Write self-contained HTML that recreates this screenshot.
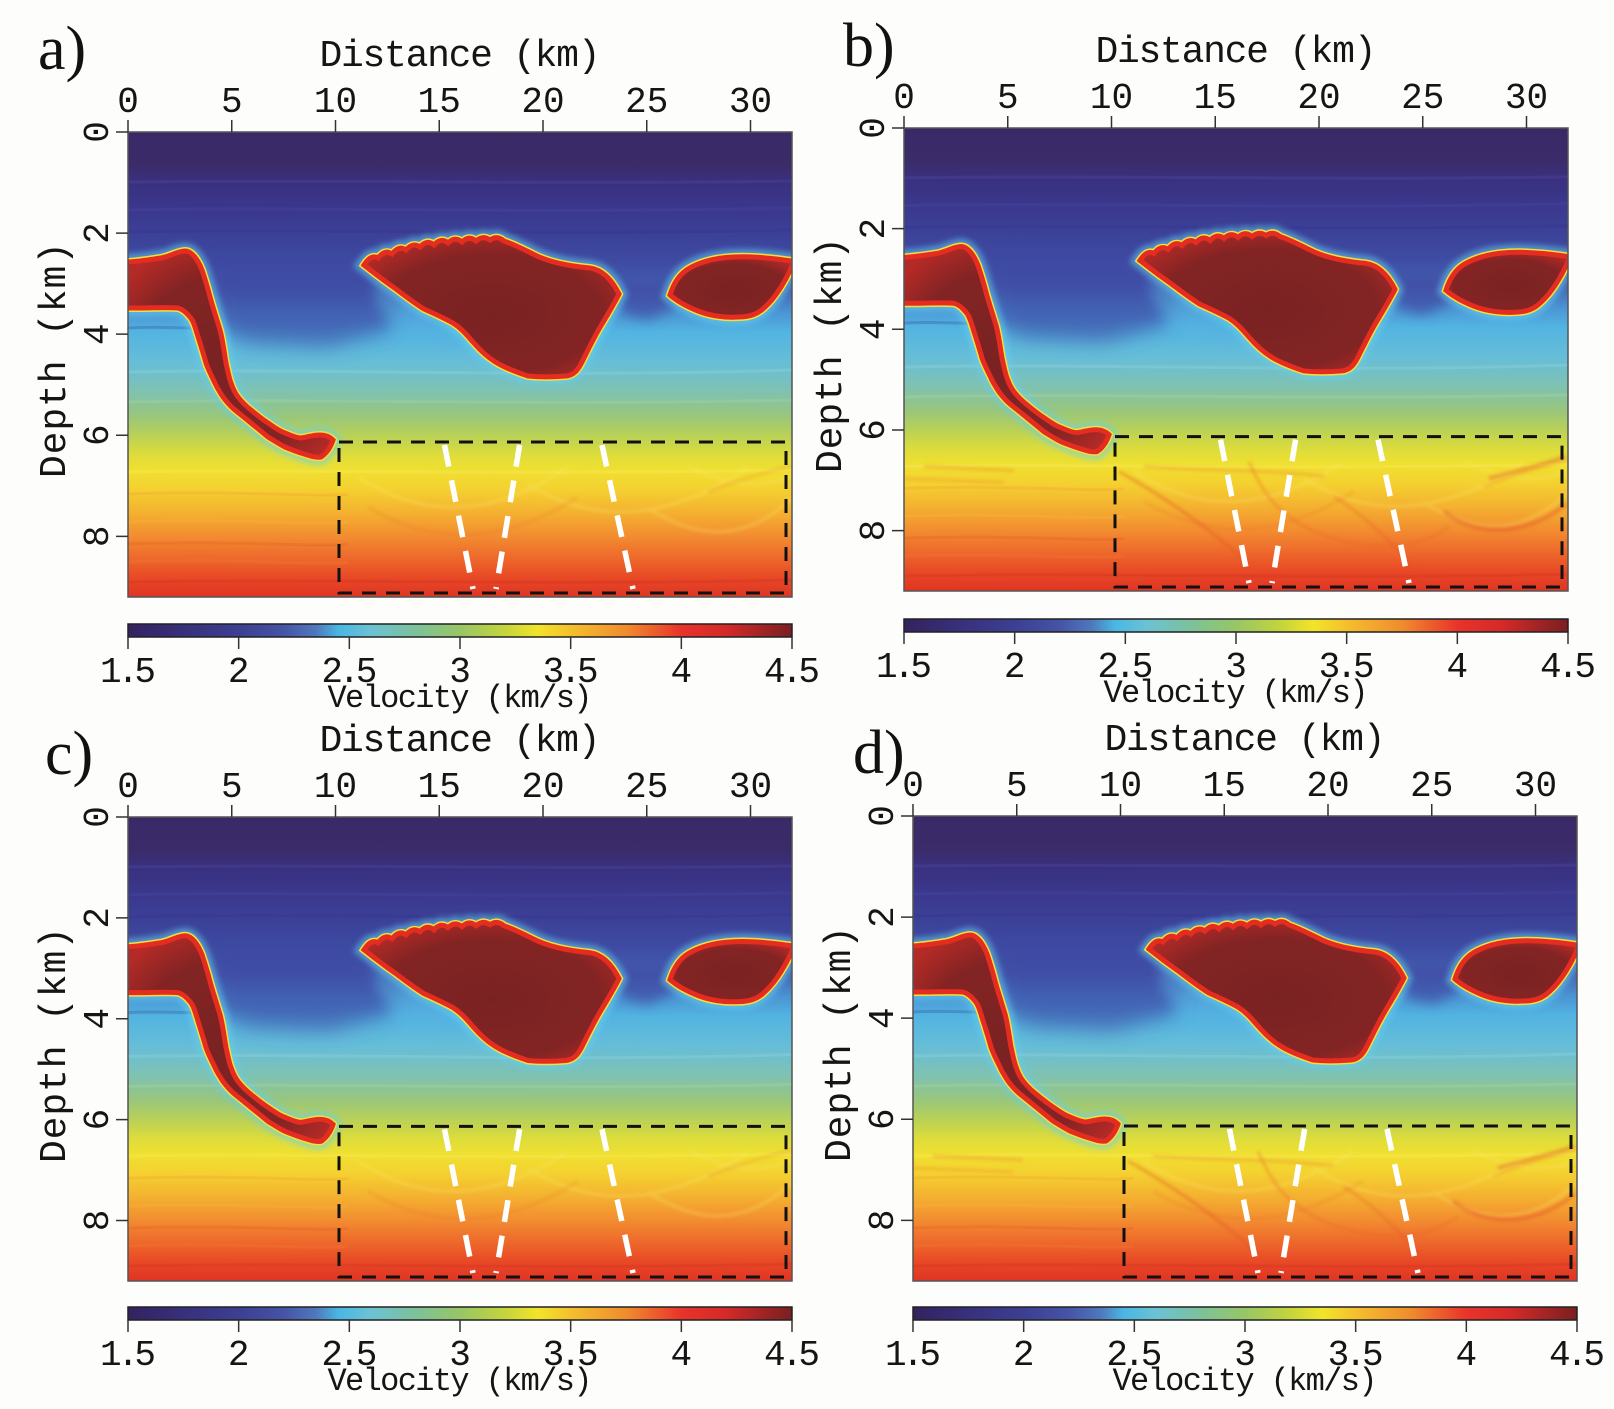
<!DOCTYPE html>
<html><head><meta charset="utf-8">
<style>
html,body{margin:0;padding:0;background:#fdfdfc;}
svg{display:block;}
.t{font-family:"Liberation Mono",monospace;font-size:36px;fill:#151515;text-anchor:middle;}
.lab{font-family:"Liberation Mono",monospace;font-size:38px;fill:#151515;text-anchor:middle;}
.vel{font-family:"Liberation Mono",monospace;font-size:32px;fill:#151515;text-anchor:middle;}
.pl{font-family:"Liberation Serif",serif;font-size:62px;fill:#111;}
</style></head>
<body>
<svg width="1614" height="1409" viewBox="0 0 1614 1409" xmlns="http://www.w3.org/2000/svg">
<rect x="0" y="0" width="1614" height="1409" fill="#fdfdfc"/>
<defs>
<linearGradient id="bg" gradientUnits="userSpaceOnUse" x1="0" y1="0" x2="0" y2="465">
<stop offset="0" stop-color="#3a2966"/>
<stop offset="0.07" stop-color="#3b2b69"/>
<stop offset="0.11" stop-color="#3a3080"/>
<stop offset="0.19" stop-color="#3b3b92"/>
<stop offset="0.28" stop-color="#3e4ba2"/>
<stop offset="0.34" stop-color="#4461b2"/>
<stop offset="0.385" stop-color="#4a92d2"/>
<stop offset="0.43" stop-color="#52b4e2"/>
<stop offset="0.50" stop-color="#68bed6"/>
<stop offset="0.56" stop-color="#80c2b0"/>
<stop offset="0.61" stop-color="#98c67c"/>
<stop offset="0.656" stop-color="#bcd254"/>
<stop offset="0.692" stop-color="#dcdc3c"/>
<stop offset="0.727" stop-color="#f0e030"/>
<stop offset="0.77" stop-color="#f4d030"/>
<stop offset="0.82" stop-color="#f4b030"/>
<stop offset="0.87" stop-color="#f28c30"/>
<stop offset="0.914" stop-color="#ee6a2c"/>
<stop offset="0.957" stop-color="#e84a26"/>
<stop offset="1" stop-color="#e03424"/>
</linearGradient>
<linearGradient id="cb" x1="0" y1="0" x2="1" y2="0">
<stop offset="0" stop-color="#33225f"/>
<stop offset="0.083" stop-color="#38307c"/>
<stop offset="0.167" stop-color="#3c3f92"/>
<stop offset="0.233" stop-color="#4553a6"/>
<stop offset="0.283" stop-color="#4f78bc"/>
<stop offset="0.317" stop-color="#4ab6e4"/>
<stop offset="0.367" stop-color="#6cc2d4"/>
<stop offset="0.433" stop-color="#7cc29a"/>
<stop offset="0.5" stop-color="#98c666"/>
<stop offset="0.567" stop-color="#c4d43c"/>
<stop offset="0.617" stop-color="#f2e42a"/>
<stop offset="0.667" stop-color="#f4bf2e"/>
<stop offset="0.75" stop-color="#f08c2e"/>
<stop offset="0.833" stop-color="#e8342a"/>
<stop offset="0.9" stop-color="#d42a28"/>
<stop offset="1" stop-color="#7a1f22"/>
</linearGradient>
<radialGradient id="saltG" cx="0.5" cy="0.55" r="0.62">
<stop offset="0" stop-color="#7a2222"/>
<stop offset="0.7" stop-color="#832424"/>
<stop offset="1" stop-color="#b42a26"/>
</radialGradient>
<filter id="bl10" x="-40%" y="-40%" width="180%" height="180%"><feGaussianBlur stdDeviation="10"/></filter>
<filter id="bl6" x="-30%" y="-30%" width="160%" height="160%"><feGaussianBlur stdDeviation="6"/></filter>
<filter id="bl3" x="-20%" y="-20%" width="140%" height="140%"><feGaussianBlur stdDeviation="3"/></filter>
<filter id="bl1" x="-20%" y="-20%" width="140%" height="140%"><feGaussianBlur stdDeviation="1.5"/></filter>
<clipPath id="pc"><rect x="0" y="0" width="664" height="465"/></clipPath>

<path id="s1" d="M-8,130 L0,130 C15,129 25,127 33,126 C43,124 50,119 57,119 C64,119 70,128 74,138 C77,147 80,157 82,165 C85,176 89,188 92,198 C95,209 96,220 98,231 C100,240 101,246 103,251 C105,257 107,261 110,265 C114,270 118,274 123,278 C129,283 134,287 140,291 C146,295 151,299 157,301 C162,303 168,306 173,306 C180,305 185,303 192,303 C197,303 202,305 205,308 C203,314 199,321 193,325 C186,326 180,323 173,321 C167,319 162,317 157,315 C151,312 145,308 140,305 C134,300 128,295 123,291 C117,286 112,282 107,278 C102,274 98,269 95,265 C92,260 89,256 87,251 C83,243 80,237 78,231 C75,220 71,208 68,198 C66,192 65,188 62,185 C58,180 54,177 50,176 C40,175 25,176 10,176 L-8,176 Z"/>
<path id="s2" d="M236,133 Q243,122 250,126 Q257,117 264,122 Q271,113 278,118 Q285,110 292,115 Q299,107 306,113 Q313,105 320,111 Q327,104 334,110 Q341,103 348,109 Q355,103 362,108 Q369,103 376,109 C385,112 395,117 405,122 C420,130 440,134 462,136 C475,138 484,148 491,162 C486,172 480,182 474,192 C466,205 460,218 454,230 C450,238 446,243 438,244 C425,245 410,245 400,244 C388,240 375,235 366,229 C358,224 352,218 345,210 C338,202 333,196 325,191 C314,185 305,181 296,177 C285,170 276,163 268,157 C258,150 246,141 236,133 Z"/>
<path id="s3" d="M542,163 C546,150 552,142 560,137 C570,131 585,126 605,125 C625,124 645,126 670,130 L670,134 L664,134 C658,148 648,165 637,175 C630,182 622,185 610,185 C595,186 580,183 570,179 C560,175 550,170 542,163 Z"/>

<g id="mbase">
<g clip-path="url(#pc)">
<rect x="0" y="0" width="664" height="465" fill="url(#bg)"/>
<g fill="none" stroke-width="3" opacity="0.22">
<path d="M0,50 C200,47 420,53 664,49" stroke="#5a5ab8"/>
<path d="M0,78 C150,74 380,82 664,76" stroke="#5050b0"/>
<path d="M0,100 C180,96 420,104 664,98" stroke="#2e2e80"/>
<path d="M0,196 C30,194 60,197 80,196" stroke="#2a2a7a"/>
<path d="M0,240 C200,236 420,246 664,238" stroke="#a8e0f0"/>
<path d="M0,270 C200,266 420,274 664,268" stroke="#b8e0a0"/>
<path d="M0,340 C150,336 300,344 664,338" stroke="#fff080"/>
<path d="M0,362 C100,358 200,366 220,362" stroke="#f09030"/>
<path d="M0,390 C100,386 200,394 220,390" stroke="#f8c040"/>
<path d="M0,412 C100,408 200,416 220,412" stroke="#e05028"/>
<path d="M0,430 C100,426 200,434 220,430" stroke="#f08a30"/>
<path d="M0,450 C200,446 420,454 664,448" stroke="#c82a20"/>
</g>
<path d="M78,132 L240,132 L268,160 L262,198 L200,214 L120,210 L92,198 Z" fill="#3d45a0" opacity="0.65" filter="url(#bl10)"/>
<path d="M488,150 L548,150 L545,176 L520,188 L494,182 Z" fill="#4048a2" opacity="0.7" filter="url(#bl6)"/>
<path d="M246,146 L300,182 L336,202 L330,216 L272,206 L248,172 Z" fill="#58b0e0" opacity="0.45" filter="url(#bl6)"/>
<g fill="none" stroke-width="3" opacity="0.3" stroke="#fae870" filter="url(#bl1)">
<path d="M230,345 Q330,410 440,335"/>
<path d="M400,352 Q500,415 620,336"/>
<path d="M520,376 Q600,428 664,366"/>
<path d="M560,334 Q620,364 664,344"/>
</g>
<g fill="none" stroke-width="3" opacity="0.22" stroke="#e86a2c" filter="url(#bl1)">
<path d="M240,375 Q340,435 450,365"/>
<path d="M580,360 Q620,344 664,334"/>
</g>
<g fill="none" stroke="#63d0ee" stroke-width="16" opacity="0.55" filter="url(#bl3)">
<use href="#s1"/><use href="#s2"/><use href="#s3"/>
</g>
<g fill="none" stroke="#f2e03a" stroke-width="8">
<use href="#s1"/><use href="#s2"/><use href="#s3"/>
</g>
<g fill="url(#saltG)" stroke="#e42c20" stroke-width="5">
<use href="#s1"/><use href="#s2"/><use href="#s3"/>
</g>
</g>
</g>

<g id="mtop">
<g clip-path="url(#pc)">
<rect x="211" y="310" width="447" height="151" fill="none" stroke="#111" stroke-width="3" stroke-dasharray="14 10"/>
<g stroke="#ffffff" stroke-width="5.5" stroke-dasharray="22 14">
<line x1="316.5" y1="313" x2="345" y2="457"/>
<line x1="391.6" y1="313" x2="368" y2="457"/>
<line x1="474" y1="313" x2="505" y2="457"/>
</g>
</g>
<rect x="0" y="0" width="664" height="465" fill="none" stroke="#555" stroke-width="1.5"/>
</g>

<g id="extra">
<g clip-path="url(#pc)" fill="none" filter="url(#bl1)">
<path d="M215,345 C260,370 310,405 347,440" stroke="#e0502a" stroke-width="3" opacity="0.4"/>
<path d="M345,335 C360,370 380,400 440,415 C480,425 520,420 545,400" stroke="#e8602c" stroke-width="3" opacity="0.35"/>
<path d="M540,385 C570,410 620,412 662,378" stroke="#e04a2a" stroke-width="4" opacity="0.4"/>
<path d="M585,352 C610,345 640,338 662,330" stroke="#e04a2a" stroke-width="4" opacity="0.4"/>
<path d="M0,352 L100,356" stroke="#f07a30" stroke-width="3" opacity="0.3"/>
<path d="M20,340 L110,344" stroke="#e84a28" stroke-width="3" opacity="0.25"/>
<path d="M240,340 C300,345 360,342 420,350" stroke="#e85a2a" stroke-width="3" opacity="0.25"/>
<path d="M430,370 C470,395 500,430 520,455" stroke="#e04a28" stroke-width="2.5" opacity="0.3"/>
</g>
</g>

<g id="cbar">
<rect x="0" y="0" width="664" height="13" fill="url(#cb)" stroke="#222" stroke-width="1.5"/>
<path d="M0,13V25 M110.67,13V25 M221.33,13V25 M332,13V25 M442.67,13V25 M553.33,13V25 M664,13V25" stroke="#333" stroke-width="1.5"/>
</g>
</defs>

<!-- ================= Panel a ================= -->
<text class="pl" x="38" y="69">a)</text>
<g transform="translate(128,132)">
<use href="#mbase"/>
<use href="#mtop"/>
<path d="M0,-12V0 M103.75,-12V0 M207.5,-12V0 M311.25,-12V0 M415,-12V0 M518.75,-12V0 M622.5,-12V0 M-12,0H0 M-12,101.09H0 M-12,202.17H0 M-12,303.26H0 M-12,404.35H0" stroke="#333" stroke-width="1.5"/>
<text class="t" x="0" y="-20">0</text>
<text class="t" x="103.75" y="-20">5</text>
<text class="t" x="207.5" y="-20">10</text>
<text class="t" x="311.25" y="-20">15</text>
<text class="t" x="415" y="-20">20</text>
<text class="t" x="518.75" y="-20">25</text>
<text class="t" x="622.5" y="-20">30</text>
<text class="t" transform="translate(-20,0) rotate(-90)">0</text>
<text class="t" transform="translate(-20,101.09) rotate(-90)">2</text>
<text class="t" transform="translate(-20,202.17) rotate(-90)">4</text>
<text class="t" transform="translate(-20,303.26) rotate(-90)">6</text>
<text class="t" transform="translate(-20,404.35) rotate(-90)">8</text>
<text class="lab" x="332" y="-66" textLength="281">Distance (km)</text>
<text class="lab" transform="translate(-63,228) rotate(-90)" textLength="236">Depth (km)</text>
<use href="#cbar" transform="translate(0,492)"/>
<text class="t" x="0" y="550" textLength="56">1.5</text>
<text class="t" x="110.67" y="550">2</text>
<text class="t" x="221.33" y="550" textLength="56">2.5</text>
<text class="t" x="332" y="550">3</text>
<text class="t" x="442.67" y="550" textLength="56">3.5</text>
<text class="t" x="553.33" y="550">4</text>
<text class="t" x="664" y="550" textLength="56">4.5</text>
<text class="vel" x="332" y="575" textLength="265">Velocity (km/s)</text>
</g>

<!-- ================= Panel b ================= -->
<text class="pl" x="843" y="66">b)</text>
<g transform="translate(904,128)">
<g transform="scale(1,0.9957)">
<use href="#mbase"/>
<use href="#extra"/>
<use href="#mtop"/>
</g>
<path d="M0,-12V0 M103.75,-12V0 M207.5,-12V0 M311.25,-12V0 M415,-12V0 M518.75,-12V0 M622.5,-12V0 M-12,0H0 M-12,100.65H0 M-12,201.3H0 M-12,301.96H0 M-12,402.61H0" stroke="#333" stroke-width="1.5"/>
<text class="t" x="0" y="-20">0</text>
<text class="t" x="103.75" y="-20">5</text>
<text class="t" x="207.5" y="-20">10</text>
<text class="t" x="311.25" y="-20">15</text>
<text class="t" x="415" y="-20">20</text>
<text class="t" x="518.75" y="-20">25</text>
<text class="t" x="622.5" y="-20">30</text>
<text class="t" transform="translate(-20,0) rotate(-90)">0</text>
<text class="t" transform="translate(-20,100.65) rotate(-90)">2</text>
<text class="t" transform="translate(-20,201.3) rotate(-90)">4</text>
<text class="t" transform="translate(-20,301.96) rotate(-90)">6</text>
<text class="t" transform="translate(-20,402.61) rotate(-90)">8</text>
<text class="lab" x="332" y="-66" textLength="281">Distance (km)</text>
<text class="lab" transform="translate(-63,227) rotate(-90)" textLength="236">Depth (km)</text>
<use href="#cbar" transform="translate(0,491)"/>
<text class="t" x="0" y="549" textLength="56">1.5</text>
<text class="t" x="110.67" y="549">2</text>
<text class="t" x="221.33" y="549" textLength="56">2.5</text>
<text class="t" x="332" y="549">3</text>
<text class="t" x="442.67" y="549" textLength="56">3.5</text>
<text class="t" x="553.33" y="549">4</text>
<text class="t" x="664" y="549" textLength="56">4.5</text>
<text class="vel" x="332" y="574" textLength="265">Velocity (km/s)</text>
</g>

<!-- ================= Panel c ================= -->
<text class="pl" x="45" y="774">c)</text>
<g transform="translate(128,817)">
<g transform="scale(1,0.99785)">
<use href="#mbase"/>
<use href="#mtop"/>
</g>
<path d="M0,-12V0 M103.75,-12V0 M207.5,-12V0 M311.25,-12V0 M415,-12V0 M518.75,-12V0 M622.5,-12V0 M-12,0H0 M-12,100.87H0 M-12,201.74H0 M-12,302.61H0 M-12,403.48H0" stroke="#333" stroke-width="1.5"/>
<text class="t" x="0" y="-20">0</text>
<text class="t" x="103.75" y="-20">5</text>
<text class="t" x="207.5" y="-20">10</text>
<text class="t" x="311.25" y="-20">15</text>
<text class="t" x="415" y="-20">20</text>
<text class="t" x="518.75" y="-20">25</text>
<text class="t" x="622.5" y="-20">30</text>
<text class="t" transform="translate(-20,0) rotate(-90)">0</text>
<text class="t" transform="translate(-20,100.87) rotate(-90)">2</text>
<text class="t" transform="translate(-20,201.74) rotate(-90)">4</text>
<text class="t" transform="translate(-20,302.61) rotate(-90)">6</text>
<text class="t" transform="translate(-20,403.48) rotate(-90)">8</text>
<text class="lab" x="332" y="-66" textLength="281">Distance (km)</text>
<text class="lab" transform="translate(-63,228) rotate(-90)" textLength="236">Depth (km)</text>
<use href="#cbar" transform="translate(0,490)"/>
<text class="t" x="0" y="548" textLength="56">1.5</text>
<text class="t" x="110.67" y="548">2</text>
<text class="t" x="221.33" y="548" textLength="56">2.5</text>
<text class="t" x="332" y="548">3</text>
<text class="t" x="442.67" y="548" textLength="56">3.5</text>
<text class="t" x="553.33" y="548">4</text>
<text class="t" x="664" y="548" textLength="56">4.5</text>
<text class="vel" x="332" y="573" textLength="265">Velocity (km/s)</text>
</g>

<!-- ================= Panel d ================= -->
<text class="pl" x="853" y="773">d)</text>
<g transform="translate(913,816)">
<use href="#mbase"/>
<use href="#extra"/>
<use href="#mtop"/>
<path d="M0,-12V0 M103.75,-12V0 M207.5,-12V0 M311.25,-12V0 M415,-12V0 M518.75,-12V0 M622.5,-12V0 M-12,0H0 M-12,101.09H0 M-12,202.17H0 M-12,303.26H0 M-12,404.35H0" stroke="#333" stroke-width="1.5"/>
<text class="t" x="0" y="-20">0</text>
<text class="t" x="103.75" y="-20">5</text>
<text class="t" x="207.5" y="-20">10</text>
<text class="t" x="311.25" y="-20">15</text>
<text class="t" x="415" y="-20">20</text>
<text class="t" x="518.75" y="-20">25</text>
<text class="t" x="622.5" y="-20">30</text>
<text class="t" transform="translate(-20,0) rotate(-90)">0</text>
<text class="t" transform="translate(-20,101.09) rotate(-90)">2</text>
<text class="t" transform="translate(-20,202.17) rotate(-90)">4</text>
<text class="t" transform="translate(-20,303.26) rotate(-90)">6</text>
<text class="t" transform="translate(-20,404.35) rotate(-90)">8</text>
<text class="lab" x="332" y="-66" textLength="281">Distance (km)</text>
<text class="lab" transform="translate(-63,228) rotate(-90)" textLength="236">Depth (km)</text>
<use href="#cbar" transform="translate(0,491)"/>
<text class="t" x="0" y="549" textLength="56">1.5</text>
<text class="t" x="110.67" y="549">2</text>
<text class="t" x="221.33" y="549" textLength="56">2.5</text>
<text class="t" x="332" y="549">3</text>
<text class="t" x="442.67" y="549" textLength="56">3.5</text>
<text class="t" x="553.33" y="549">4</text>
<text class="t" x="664" y="549" textLength="56">4.5</text>
<text class="vel" x="332" y="574" textLength="265">Velocity (km/s)</text>
</g>
</svg>
</body></html>
